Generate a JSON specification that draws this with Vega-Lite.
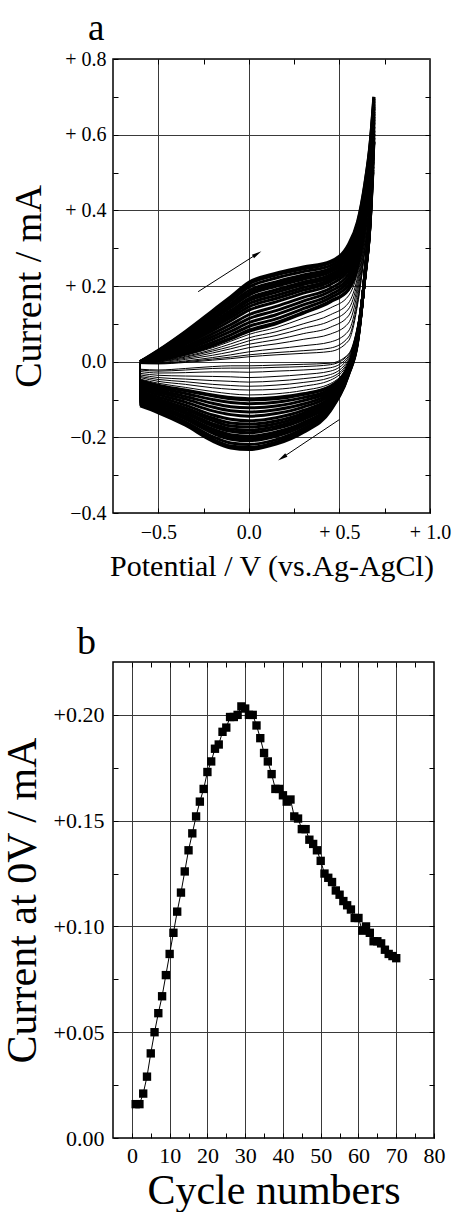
{
"$schema":"https://vega.github.io/schema/vega-lite/v6.json",
"background":"white",
"padding":{"left":0,"top":9,"right":0,"bottom":0},
"spacing":40,
"config":{
"view":{"stroke":"black","strokeWidth":1.5},
"axis":{"domain":false,"minExtent":0,"labelFont":"Liberation Serif","titleFont":"Liberation Serif","labelColor":"black","titleColor":"black","titleFontWeight":"normal","tickColor":"black","tickWidth":1,"gridColor":"#3a3a3a","gridWidth":1,"labelOverlap":false,"labelFlush":false,"labelBound":false},
"title":{"font":"Liberation Serif","fontWeight":"normal","color":"black"}
},
"datasets":{
"cv":[
{"c":1,"v":-0.6,"a":-0.005,"k":-0.02},{"c":1,"v":-0.5,"a":-0.006,"k":-0.022},{"c":1,"v":-0.35,"a":-0.002,"k":-0.018},{"c":1,"v":-0.2,"a":0.004,"k":-0.013},{"c":1,"v":-0.1,"a":0.008,"k":-0.011},{"c":1,"v":0,"a":0.013,"k":-0.011},{"c":1,"v":0.15,"a":0.018,"k":-0.009},{"c":1,"v":0.3,"a":0.022,"k":-0.007},{"c":1,"v":0.45,"a":0.027,"k":-0.004},{"c":1,"v":0.55,"a":0.055,"k":0.02},{"c":1,"v":0.6,"a":0.15,"k":0.095},{"c":1,"v":0.64,"a":0.29,"k":0.22},{"c":1,"v":0.67,"a":0.41,"k":0.33},{"c":1,"v":0.69,"a":0.5,"k":0.5},
{"c":3,"v":-0.6,"a":-0.005,"k":-0.022},{"c":3,"v":-0.5,"a":-0.005,"k":-0.025},{"c":3,"v":-0.35,"a":0,"k":-0.022},{"c":3,"v":-0.2,"a":0.007,"k":-0.018},{"c":3,"v":-0.1,"a":0.012,"k":-0.017},{"c":3,"v":0,"a":0.018,"k":-0.017},{"c":3,"v":0.15,"a":0.024,"k":-0.015},{"c":3,"v":0.3,"a":0.029,"k":-0.013},{"c":3,"v":0.45,"a":0.036,"k":-0.008},{"c":3,"v":0.55,"a":0.065,"k":0.018},{"c":3,"v":0.6,"a":0.157,"k":0.094},{"c":3,"v":0.64,"a":0.295,"k":0.22},{"c":3,"v":0.67,"a":0.415,"k":0.333},{"c":3,"v":0.69,"a":0.506,"k":0.506},
{"c":4,"v":-0.6,"a":-0.004,"k":-0.026},{"c":4,"v":-0.5,"a":-0.004,"k":-0.03},{"c":4,"v":-0.35,"a":0.002,"k":-0.029},{"c":4,"v":-0.2,"a":0.011,"k":-0.027},{"c":4,"v":-0.1,"a":0.018,"k":-0.027},{"c":4,"v":0,"a":0.026,"k":-0.028},{"c":4,"v":0.15,"a":0.034,"k":-0.025},{"c":4,"v":0.3,"a":0.042,"k":-0.022},{"c":4,"v":0.45,"a":0.052,"k":-0.016},{"c":4,"v":0.55,"a":0.081,"k":0.014},{"c":4,"v":0.6,"a":0.169,"k":0.091},{"c":4,"v":0.64,"a":0.303,"k":0.22},{"c":4,"v":0.67,"a":0.423,"k":0.338},{"c":4,"v":0.69,"a":0.515,"k":0.515},
{"c":5,"v":-0.6,"a":-0.004,"k":-0.031},{"c":5,"v":-0.5,"a":-0.003,"k":-0.036},{"c":5,"v":-0.35,"a":0.006,"k":-0.038},{"c":5,"v":-0.2,"a":0.017,"k":-0.039},{"c":5,"v":-0.1,"a":0.026,"k":-0.04},{"c":5,"v":0,"a":0.037,"k":-0.042},{"c":5,"v":0.15,"a":0.047,"k":-0.039},{"c":5,"v":0.3,"a":0.059,"k":-0.034},{"c":5,"v":0.45,"a":0.073,"k":-0.025},{"c":5,"v":0.55,"a":0.102,"k":0.01},{"c":5,"v":0.6,"a":0.185,"k":0.088},{"c":5,"v":0.64,"a":0.315,"k":0.22},{"c":5,"v":0.67,"a":0.435,"k":0.344},{"c":5,"v":0.69,"a":0.528,"k":0.528},
{"c":6,"v":-0.6,"a":-0.004,"k":-0.035},{"c":6,"v":-0.5,"a":-0.001,"k":-0.042},{"c":6,"v":-0.35,"a":0.009,"k":-0.046},{"c":6,"v":-0.2,"a":0.023,"k":-0.05},{"c":6,"v":-0.1,"a":0.034,"k":-0.052},{"c":6,"v":0,"a":0.046,"k":-0.054},{"c":6,"v":0.15,"a":0.058,"k":-0.051},{"c":6,"v":0.3,"a":0.074,"k":-0.045},{"c":6,"v":0.45,"a":0.091,"k":-0.034},{"c":6,"v":0.55,"a":0.121,"k":0.005},{"c":6,"v":0.6,"a":0.199,"k":0.085},{"c":6,"v":0.64,"a":0.324,"k":0.22},{"c":6,"v":0.67,"a":0.444,"k":0.35},{"c":6,"v":0.69,"a":0.539,"k":0.539},
{"c":7,"v":-0.6,"a":-0.003,"k":-0.039},{"c":7,"v":-0.5,"a":0,"k":-0.047},{"c":7,"v":-0.35,"a":0.012,"k":-0.053},{"c":7,"v":-0.2,"a":0.028,"k":-0.06},{"c":7,"v":-0.1,"a":0.04,"k":-0.063},{"c":7,"v":0,"a":0.055,"k":-0.065},{"c":7,"v":0.15,"a":0.069,"k":-0.062},{"c":7,"v":0.3,"a":0.088,"k":-0.055},{"c":7,"v":0.45,"a":0.108,"k":-0.042},{"c":7,"v":0.55,"a":0.139,"k":0.001},{"c":7,"v":0.6,"a":0.212,"k":0.083},{"c":7,"v":0.64,"a":0.333,"k":0.22},{"c":7,"v":0.67,"a":0.453,"k":0.355},{"c":7,"v":0.69,"a":0.55,"k":0.55},
{"c":8,"v":-0.6,"a":-0.003,"k":-0.042},{"c":8,"v":-0.5,"a":0.001,"k":-0.052},{"c":8,"v":-0.35,"a":0.014,"k":-0.06},{"c":8,"v":-0.2,"a":0.032,"k":-0.069},{"c":8,"v":-0.1,"a":0.047,"k":-0.073},{"c":8,"v":0,"a":0.063,"k":-0.075},{"c":8,"v":0.15,"a":0.079,"k":-0.073},{"c":8,"v":0.3,"a":0.1,"k":-0.065},{"c":8,"v":0.45,"a":0.124,"k":-0.049},{"c":8,"v":0.55,"a":0.155,"k":-0.002},{"c":8,"v":0.6,"a":0.224,"k":0.08},{"c":8,"v":0.64,"a":0.342,"k":0.22},{"c":8,"v":0.67,"a":0.462,"k":0.36},{"c":8,"v":0.69,"a":0.559,"k":0.559},
{"c":9,"v":-0.6,"a":-0.002,"k":-0.046},{"c":9,"v":-0.5,"a":0.003,"k":-0.057},{"c":9,"v":-0.35,"a":0.017,"k":-0.068},{"c":9,"v":-0.2,"a":0.037,"k":-0.079},{"c":9,"v":-0.1,"a":0.054,"k":-0.085},{"c":9,"v":0,"a":0.072,"k":-0.088},{"c":9,"v":0.15,"a":0.09,"k":-0.085},{"c":9,"v":0.3,"a":0.115,"k":-0.076},{"c":9,"v":0.45,"a":0.142,"k":-0.058},{"c":9,"v":0.55,"a":0.174,"k":-0.006},{"c":9,"v":0.6,"a":0.238,"k":0.077},{"c":9,"v":0.64,"a":0.352,"k":0.22},{"c":9,"v":0.67,"a":0.472,"k":0.365},{"c":9,"v":0.69,"a":0.57,"k":0.57},
{"c":10,"v":-0.6,"a":-0.002,"k":-0.051},{"c":10,"v":-0.5,"a":0.005,"k":-0.064},{"c":10,"v":-0.35,"a":0.021,"k":-0.077},{"c":10,"v":-0.2,"a":0.044,"k":-0.09},{"c":10,"v":-0.1,"a":0.062,"k":-0.098},{"c":10,"v":0,"a":0.083,"k":-0.101},{"c":10,"v":0.15,"a":0.103,"k":-0.098},{"c":10,"v":0.3,"a":0.13,"k":-0.087},{"c":10,"v":0.45,"a":0.16,"k":-0.066},{"c":10,"v":0.55,"a":0.192,"k":-0.011},{"c":10,"v":0.6,"a":0.252,"k":0.075},{"c":10,"v":0.64,"a":0.362,"k":0.22},{"c":10,"v":0.67,"a":0.482,"k":0.371},{"c":10,"v":0.69,"a":0.582,"k":0.582},
{"c":11,"v":-0.6,"a":-0.002,"k":-0.057},{"c":11,"v":-0.5,"a":0.007,"k":-0.069},{"c":11,"v":-0.35,"a":0.026,"k":-0.084},{"c":11,"v":-0.2,"a":0.051,"k":-0.1},{"c":11,"v":-0.1,"a":0.071,"k":-0.108},{"c":11,"v":0,"a":0.093,"k":-0.111},{"c":11,"v":0.15,"a":0.113,"k":-0.107},{"c":11,"v":0.3,"a":0.14,"k":-0.095},{"c":11,"v":0.45,"a":0.169,"k":-0.072},{"c":11,"v":0.55,"a":0.202,"k":-0.013},{"c":11,"v":0.6,"a":0.262,"k":0.073},{"c":11,"v":0.64,"a":0.371,"k":0.221},{"c":11,"v":0.67,"a":0.49,"k":0.375},{"c":11,"v":0.69,"a":0.592,"k":0.592},
{"c":12,"v":-0.6,"a":-0.002,"k":-0.062},{"c":12,"v":-0.5,"a":0.009,"k":-0.075},{"c":12,"v":-0.35,"a":0.031,"k":-0.092},{"c":12,"v":-0.2,"a":0.059,"k":-0.11},{"c":12,"v":-0.1,"a":0.08,"k":-0.119},{"c":12,"v":0,"a":0.103,"k":-0.122},{"c":12,"v":0.15,"a":0.124,"k":-0.117},{"c":12,"v":0.3,"a":0.15,"k":-0.103},{"c":12,"v":0.45,"a":0.177,"k":-0.077},{"c":12,"v":0.55,"a":0.212,"k":-0.015},{"c":12,"v":0.6,"a":0.272,"k":0.071},{"c":12,"v":0.64,"a":0.38,"k":0.222},{"c":12,"v":0.67,"a":0.498,"k":0.379},{"c":12,"v":0.69,"a":0.602,"k":0.602},
{"c":13,"v":-0.6,"a":-0.002,"k":-0.067},{"c":13,"v":-0.5,"a":0.011,"k":-0.081},{"c":13,"v":-0.35,"a":0.036,"k":-0.099},{"c":13,"v":-0.2,"a":0.066,"k":-0.12},{"c":13,"v":-0.1,"a":0.089,"k":-0.13},{"c":13,"v":0,"a":0.114,"k":-0.133},{"c":13,"v":0.15,"a":0.135,"k":-0.127},{"c":13,"v":0.3,"a":0.16,"k":-0.112},{"c":13,"v":0.45,"a":0.186,"k":-0.082},{"c":13,"v":0.55,"a":0.221,"k":-0.017},{"c":13,"v":0.6,"a":0.281,"k":0.069},{"c":13,"v":0.64,"a":0.389,"k":0.223},{"c":13,"v":0.67,"a":0.506,"k":0.383},{"c":13,"v":0.69,"a":0.611,"k":0.611},
{"c":14,"v":-0.6,"a":-0.001,"k":-0.073},{"c":14,"v":-0.5,"a":0.013,"k":-0.087},{"c":14,"v":-0.35,"a":0.04,"k":-0.107},{"c":14,"v":-0.2,"a":0.074,"k":-0.13},{"c":14,"v":-0.1,"a":0.098,"k":-0.14},{"c":14,"v":0,"a":0.124,"k":-0.144},{"c":14,"v":0.15,"a":0.146,"k":-0.137},{"c":14,"v":0.3,"a":0.17,"k":-0.12},{"c":14,"v":0.45,"a":0.194,"k":-0.087},{"c":14,"v":0.55,"a":0.231,"k":-0.019},{"c":14,"v":0.6,"a":0.291,"k":0.067},{"c":14,"v":0.64,"a":0.397,"k":0.223},{"c":14,"v":0.67,"a":0.514,"k":0.387},{"c":14,"v":0.69,"a":0.621,"k":0.621},
{"c":15,"v":-0.6,"a":-0.001,"k":-0.079},{"c":15,"v":-0.5,"a":0.015,"k":-0.093},{"c":15,"v":-0.35,"a":0.046,"k":-0.115},{"c":15,"v":-0.2,"a":0.082,"k":-0.141},{"c":15,"v":-0.1,"a":0.108,"k":-0.152},{"c":15,"v":0,"a":0.136,"k":-0.156},{"c":15,"v":0.15,"a":0.158,"k":-0.148},{"c":15,"v":0.3,"a":0.181,"k":-0.129},{"c":15,"v":0.45,"a":0.204,"k":-0.093},{"c":15,"v":0.55,"a":0.242,"k":-0.021},{"c":15,"v":0.6,"a":0.302,"k":0.064},{"c":15,"v":0.64,"a":0.407,"k":0.224},{"c":15,"v":0.67,"a":0.523,"k":0.392},{"c":15,"v":0.69,"a":0.632,"k":0.632},
{"c":16,"v":-0.6,"a":-0.001,"k":-0.084},{"c":16,"v":-0.5,"a":0.017,"k":-0.099},{"c":16,"v":-0.35,"a":0.05,"k":-0.122},{"c":16,"v":-0.2,"a":0.089,"k":-0.149},{"c":16,"v":-0.1,"a":0.116,"k":-0.162},{"c":16,"v":0,"a":0.145,"k":-0.165},{"c":16,"v":0.15,"a":0.167,"k":-0.157},{"c":16,"v":0.3,"a":0.189,"k":-0.136},{"c":16,"v":0.45,"a":0.212,"k":-0.098},{"c":16,"v":0.55,"a":0.25,"k":-0.023},{"c":16,"v":0.6,"a":0.31,"k":0.063},{"c":16,"v":0.64,"a":0.415,"k":0.225},{"c":16,"v":0.67,"a":0.53,"k":0.395},{"c":16,"v":0.69,"a":0.64,"k":0.64},
{"c":17,"v":-0.6,"a":-0.001,"k":-0.088},{"c":17,"v":-0.5,"a":0.019,"k":-0.103},{"c":17,"v":-0.35,"a":0.054,"k":-0.127},{"c":17,"v":-0.2,"a":0.094,"k":-0.156},{"c":17,"v":-0.1,"a":0.123,"k":-0.17},{"c":17,"v":0,"a":0.153,"k":-0.173},{"c":17,"v":0.15,"a":0.175,"k":-0.164},{"c":17,"v":0.3,"a":0.196,"k":-0.142},{"c":17,"v":0.45,"a":0.218,"k":-0.101},{"c":17,"v":0.55,"a":0.257,"k":-0.024},{"c":17,"v":0.6,"a":0.317,"k":0.061},{"c":17,"v":0.64,"a":0.422,"k":0.226},{"c":17,"v":0.67,"a":0.536,"k":0.398},{"c":17,"v":0.69,"a":0.647,"k":0.647},
{"c":18,"v":-0.6,"a":-0.001,"k":-0.092},{"c":18,"v":-0.5,"a":0.02,"k":-0.107},{"c":18,"v":-0.35,"a":0.057,"k":-0.133},{"c":18,"v":-0.2,"a":0.1,"k":-0.164},{"c":18,"v":-0.1,"a":0.129,"k":-0.178},{"c":18,"v":0,"a":0.161,"k":-0.181},{"c":18,"v":0.15,"a":0.183,"k":-0.171},{"c":18,"v":0.3,"a":0.204,"k":-0.148},{"c":18,"v":0.45,"a":0.224,"k":-0.105},{"c":18,"v":0.55,"a":0.264,"k":-0.026},{"c":18,"v":0.6,"a":0.324,"k":0.06},{"c":18,"v":0.64,"a":0.428,"k":0.226},{"c":18,"v":0.67,"a":0.542,"k":0.401},{"c":18,"v":0.69,"a":0.654,"k":0.654},
{"c":19,"v":-0.6,"a":-0.001,"k":-0.095},{"c":19,"v":-0.5,"a":0.021,"k":-0.111},{"c":19,"v":-0.35,"a":0.06,"k":-0.137},{"c":19,"v":-0.2,"a":0.104,"k":-0.17},{"c":19,"v":-0.1,"a":0.135,"k":-0.184},{"c":19,"v":0,"a":0.167,"k":-0.188},{"c":19,"v":0.15,"a":0.19,"k":-0.177},{"c":19,"v":0.3,"a":0.21,"k":-0.153},{"c":19,"v":0.45,"a":0.23,"k":-0.109},{"c":19,"v":0.55,"a":0.27,"k":-0.027},{"c":19,"v":0.6,"a":0.33,"k":0.058},{"c":19,"v":0.64,"a":0.434,"k":0.227},{"c":19,"v":0.67,"a":0.547,"k":0.404},{"c":19,"v":0.69,"a":0.66,"k":0.66},
{"c":20,"v":-0.6,"a":-0.001,"k":-0.1},{"c":20,"v":-0.5,"a":0.023,"k":-0.116},{"c":20,"v":-0.35,"a":0.064,"k":-0.144},{"c":20,"v":-0.2,"a":0.111,"k":-0.178},{"c":20,"v":-0.1,"a":0.143,"k":-0.193},{"c":20,"v":0,"a":0.176,"k":-0.197},{"c":20,"v":0.15,"a":0.199,"k":-0.186},{"c":20,"v":0.3,"a":0.218,"k":-0.161},{"c":20,"v":0.45,"a":0.237,"k":-0.113},{"c":20,"v":0.55,"a":0.279,"k":-0.029},{"c":20,"v":0.6,"a":0.339,"k":0.057},{"c":20,"v":0.64,"a":0.441,"k":0.227},{"c":20,"v":0.67,"a":0.554,"k":0.407},{"c":20,"v":0.69,"a":0.669,"k":0.669},
{"c":21,"v":-0.6,"a":0,"k":-0.102},{"c":21,"v":-0.5,"a":0.024,"k":-0.119},{"c":21,"v":-0.35,"a":0.067,"k":-0.148},{"c":21,"v":-0.2,"a":0.115,"k":-0.183},{"c":21,"v":-0.1,"a":0.147,"k":-0.199},{"c":21,"v":0,"a":0.181,"k":-0.203},{"c":21,"v":0.15,"a":0.205,"k":-0.191},{"c":21,"v":0.3,"a":0.223,"k":-0.165},{"c":21,"v":0.45,"a":0.242,"k":-0.116},{"c":21,"v":0.55,"a":0.284,"k":-0.03},{"c":21,"v":0.6,"a":0.344,"k":0.056},{"c":21,"v":0.64,"a":0.446,"k":0.228},{"c":21,"v":0.67,"a":0.558,"k":0.409},{"c":21,"v":0.69,"a":0.674,"k":0.674},
{"c":22,"v":-0.6,"a":0,"k":-0.106},{"c":22,"v":-0.5,"a":0.026,"k":-0.123},{"c":22,"v":-0.35,"a":0.07,"k":-0.152},{"c":22,"v":-0.2,"a":0.119,"k":-0.189},{"c":22,"v":-0.1,"a":0.153,"k":-0.205},{"c":22,"v":0,"a":0.188,"k":-0.209},{"c":22,"v":0.15,"a":0.211,"k":-0.197},{"c":22,"v":0.3,"a":0.229,"k":-0.17},{"c":22,"v":0.45,"a":0.247,"k":-0.119},{"c":22,"v":0.55,"a":0.29,"k":-0.031},{"c":22,"v":0.6,"a":0.35,"k":0.054},{"c":22,"v":0.64,"a":0.451,"k":0.228},{"c":22,"v":0.67,"a":0.563,"k":0.412},{"c":22,"v":0.69,"a":0.68,"k":0.68},
{"c":24,"v":-0.6,"a":0,"k":-0.11},{"c":24,"v":-0.5,"a":0.027,"k":-0.128},{"c":24,"v":-0.35,"a":0.074,"k":-0.159},{"c":24,"v":-0.2,"a":0.126,"k":-0.198},{"c":24,"v":-0.1,"a":0.161,"k":-0.215},{"c":24,"v":0,"a":0.197,"k":-0.219},{"c":24,"v":0.15,"a":0.221,"k":-0.206},{"c":24,"v":0.3,"a":0.238,"k":-0.177},{"c":24,"v":0.45,"a":0.254,"k":-0.124},{"c":24,"v":0.55,"a":0.298,"k":-0.033},{"c":24,"v":0.6,"a":0.358,"k":0.053},{"c":24,"v":0.64,"a":0.459,"k":0.229},{"c":24,"v":0.67,"a":0.57,"k":0.415},{"c":24,"v":0.69,"a":0.688,"k":0.688},
{"c":26,"v":-0.6,"a":0,"k":-0.114},{"c":26,"v":-0.5,"a":0.029,"k":-0.132},{"c":26,"v":-0.35,"a":0.078,"k":-0.164},{"c":26,"v":-0.2,"a":0.131,"k":-0.205},{"c":26,"v":-0.1,"a":0.168,"k":-0.223},{"c":26,"v":0,"a":0.205,"k":-0.227},{"c":26,"v":0.15,"a":0.229,"k":-0.213},{"c":26,"v":0.3,"a":0.245,"k":-0.183},{"c":26,"v":0.45,"a":0.261,"k":-0.127},{"c":26,"v":0.55,"a":0.305,"k":-0.034},{"c":26,"v":0.6,"a":0.365,"k":0.051},{"c":26,"v":0.64,"a":0.466,"k":0.23},{"c":26,"v":0.67,"a":0.576,"k":0.418},{"c":26,"v":0.69,"a":0.695,"k":0.695},
{"c":29,"v":-0.6,"a":0,"k":-0.117},{"c":29,"v":-0.5,"a":0.03,"k":-0.135},{"c":29,"v":-0.35,"a":0.08,"k":-0.168},{"c":29,"v":-0.2,"a":0.135,"k":-0.21},{"c":29,"v":-0.1,"a":0.172,"k":-0.228},{"c":29,"v":0,"a":0.21,"k":-0.232},{"c":29,"v":0.15,"a":0.234,"k":-0.218},{"c":29,"v":0.3,"a":0.25,"k":-0.187},{"c":29,"v":0.45,"a":0.265,"k":-0.13},{"c":29,"v":0.55,"a":0.31,"k":-0.035},{"c":29,"v":0.6,"a":0.37,"k":0.05},{"c":29,"v":0.64,"a":0.47,"k":0.23},{"c":29,"v":0.67,"a":0.58,"k":0.42},{"c":29,"v":0.69,"a":0.7,"k":0.7},
{"c":70,"v":-0.6,"a":-0.002,"k":-0.05},{"c":70,"v":-0.5,"a":0.004,"k":-0.062},{"c":70,"v":-0.35,"a":0.02,"k":-0.075},{"c":70,"v":-0.2,"a":0.042,"k":-0.088},{"c":70,"v":-0.1,"a":0.06,"k":-0.095},{"c":70,"v":0,"a":0.08,"k":-0.098},{"c":70,"v":0.15,"a":0.1,"k":-0.095},{"c":70,"v":0.3,"a":0.128,"k":-0.085},{"c":70,"v":0.45,"a":0.158,"k":-0.065},{"c":70,"v":0.55,"a":0.19,"k":-0.01},{"c":70,"v":0.6,"a":0.25,"k":0.075},{"c":70,"v":0.64,"a":0.36,"k":0.22},{"c":70,"v":0.67,"a":0.48,"k":0.37},{"c":70,"v":0.69,"a":0.58,"k":0.58}
],
"arr":[{"v":-0.28,"i":0.185,"v2":0.046,"i2":0.285},{"v":0.5,"i":-0.153,"v2":0.184,"i2":-0.254}],
"heads":[{"h":1,"v":0.046,"i":0.285},{"h":2,"v":0.184,"i":-0.254}],
"pb":[
{"n":1,"i":0.016},{"n":2,"i":0.016},{"n":3,"i":0.021},{"n":4,"i":0.029},{"n":5,"i":0.04},{"n":6,"i":0.05},{"n":7,"i":0.059},{"n":8,"i":0.067},{"n":9,"i":0.077},{"n":10,"i":0.087},
{"n":11,"i":0.097},{"n":12,"i":0.107},{"n":13,"i":0.116},{"n":14,"i":0.126},{"n":15,"i":0.136},{"n":16,"i":0.144},{"n":17,"i":0.152},{"n":18,"i":0.159},{"n":19,"i":0.165},{"n":20,"i":0.173},
{"n":21,"i":0.178},{"n":22,"i":0.184},{"n":23,"i":0.186},{"n":24,"i":0.192},{"n":25,"i":0.194},{"n":26,"i":0.199},{"n":27,"i":0.199},{"n":28,"i":0.2},{"n":29,"i":0.204},{"n":30,"i":0.203},
{"n":31,"i":0.2},{"n":32,"i":0.2},{"n":33,"i":0.195},{"n":34,"i":0.189},{"n":35,"i":0.182},{"n":36,"i":0.178},{"n":37,"i":0.172},{"n":38,"i":0.165},{"n":39,"i":0.165},{"n":40,"i":0.162},
{"n":41,"i":0.159},{"n":42,"i":0.16},{"n":43,"i":0.152},{"n":44,"i":0.151},{"n":45,"i":0.146},{"n":46,"i":0.146},{"n":47,"i":0.141},{"n":48,"i":0.139},{"n":49,"i":0.136},{"n":50,"i":0.131},
{"n":51,"i":0.125},{"n":52,"i":0.123},{"n":53,"i":0.121},{"n":54,"i":0.117},{"n":55,"i":0.115},{"n":56,"i":0.112},{"n":57,"i":0.11},{"n":58,"i":0.108},{"n":59,"i":0.104},{"n":60,"i":0.104},
{"n":61,"i":0.098},{"n":62,"i":0.1},{"n":63,"i":0.097},{"n":64,"i":0.093},{"n":65,"i":0.093},{"n":66,"i":0.092},{"n":67,"i":0.089},{"n":68,"i":0.087},{"n":69,"i":0.086},{"n":70,"i":0.085}
]
},
"vconcat":[
{
"width":317,"height":454,
"title":{"text":"a","anchor":"start","frame":"group","fontSize":37,"dx":-25,"offset":-28,"baseline":"alphabetic"},
"resolve":{"axis":{"x":"independent","y":"independent"}},
"layer":[
{"data":{"name":"cv"},"mark":{"type":"line","interpolate":"monotone","color":"black"},
"encoding":{
"x":{"field":"v","type":"quantitative","scale":{"domain":[-0.75,1],"nice":false,"zero":false},
"axis":{"orient":"bottom","values":[-0.5,-0.25,0,0.25,0.5,0.75,1],"tickSize":-5,"grid":true,
"gridOpacity":{"condition":{"test":"abs(datum.value*2-round(datum.value*2))>0.01","value":0},"value":1},
"labelExpr":"abs(datum.value*2-round(datum.value*2))>0.01 ? '' : (datum.value>0.001 ? '+ '+format(datum.value,'.1f') : format(datum.value,'.1f'))",
"labelFontSize":20,"labelPadding":14,"title":"Potential / V (vs.Ag-AgCl)","titleFontSize":30,"titlePadding":9}},
"y":{"field":"a","type":"quantitative","scale":{"domain":[-0.4,0.8],"nice":false,"zero":false},
"axis":{"orient":"left","values":[-0.4,-0.3,-0.2,-0.1,0,0.1,0.2,0.3,0.4,0.5,0.6,0.7,0.8],"tickSize":-5,"grid":true,
"gridOpacity":{"condition":{"test":"abs(datum.value*5-round(datum.value*5))>0.01","value":0},"value":1},
"labelExpr":"abs(datum.value*5-round(datum.value*5))>0.01 ? '' : (datum.value>0.001 ? '+ '+format(datum.value,'.1f') : format(datum.value,'.1f'))",
"labelFontSize":20,"labelPadding":12,"title":"Current / mA","titleFontSize":38,"titlePadding":16}},
"detail":{"field":"c","type":"nominal"},
"strokeWidth":{"condition":{"test":"datum.c >= 10","value":3},"value":1}}},
{"data":{"name":"cv"},"mark":{"type":"line","interpolate":"monotone","color":"black"},
"encoding":{
"x":{"field":"v","type":"quantitative","scale":{"domain":[-0.75,1],"nice":false,"zero":false},
"axis":{"orient":"top","values":[-0.5,-0.25,0,0.25,0.5,0.75],"tickSize":-5,"labels":false,"grid":false,"title":null,"labelPadding":0,"titlePadding":0,"maxExtent":0}},
"y":{"field":"k","type":"quantitative","scale":{"domain":[-0.4,0.8],"nice":false,"zero":false},
"axis":{"orient":"right","values":[-0.3,-0.2,-0.1,0,0.1,0.2,0.3,0.4,0.5,0.6,0.7],"tickSize":-5,"labels":false,"grid":false,"title":null,"labelPadding":0,"titlePadding":0,"maxExtent":0}},
"detail":{"field":"c","type":"nominal"},
"strokeWidth":{"condition":{"test":"datum.c >= 10","value":3},"value":1}}},
{"data":{"name":"cv"},"transform":[{"filter":"datum.v == -0.6"}],"mark":{"type":"rule","color":"black","strokeWidth":1.5},
"encoding":{
"x":{"field":"v","type":"quantitative","scale":{"domain":[-0.75,1],"nice":false,"zero":false},"axis":null},
"y":{"field":"a","type":"quantitative","scale":{"domain":[-0.4,0.8],"nice":false,"zero":false},"axis":null},
"y2":{"field":"k"}}},
{"data":{"name":"arr"},"mark":{"type":"rule","color":"black","strokeWidth":1},
"encoding":{
"x":{"field":"v","type":"quantitative","scale":{"domain":[-0.75,1],"nice":false,"zero":false},"axis":null},
"y":{"field":"i","type":"quantitative","scale":{"domain":[-0.4,0.8],"nice":false,"zero":false},"axis":null},
"x2":{"field":"v2"},"y2":{"field":"i2"}}},
{"data":{"name":"heads"},"transform":[{"filter":"datum.h == 1"}],"mark":{"type":"point","shape":"M0,-1L0.4,1L-0.4,1Z","filled":true,"color":"black","opacity":1,"size":100,"angle":57.5},
"encoding":{
"x":{"field":"v","type":"quantitative","scale":{"domain":[-0.75,1],"nice":false,"zero":false},"axis":null},
"y":{"field":"i","type":"quantitative","scale":{"domain":[-0.4,0.8],"nice":false,"zero":false},"axis":null}}},
{"data":{"name":"heads"},"transform":[{"filter":"datum.h == 2"}],"mark":{"type":"point","shape":"M0,-1L0.4,1L-0.4,1Z","filled":true,"color":"black","opacity":1,"size":100,"angle":236},
"encoding":{
"x":{"field":"v","type":"quantitative","scale":{"domain":[-0.75,1],"nice":false,"zero":false},"axis":null},
"y":{"field":"i","type":"quantitative","scale":{"domain":[-0.4,0.8],"nice":false,"zero":false},"axis":null}}}
]
},
{
"width":321,"height":476,
"title":{"text":"b","anchor":"start","frame":"group","fontSize":38,"dx":-36,"offset":-30,"baseline":"alphabetic"},
"data":{"name":"pb"},
"resolve":{"axis":{"x":"independent","y":"independent"}},
"layer":[
{"mark":{"type":"line","color":"black","strokeWidth":1},
"encoding":{
"x":{"field":"n","type":"quantitative","scale":{"domain":[-5,80],"nice":false,"zero":false},
"axis":{"orient":"bottom","values":[0,5,10,15,20,25,30,35,40,45,50,55,60,65,70,75,80],"tickSize":-5,"grid":true,
"gridOpacity":{"condition":{"test":"datum.value % 10 != 0","value":0},"value":1},
"labelExpr":"datum.value % 10 == 0 ? format(datum.value,'d') : ''",
"labelFontSize":22,"labelPadding":12,"title":"Cycle numbers","titleFontSize":42,"titlePadding":4}},
"y":{"field":"i","type":"quantitative","scale":{"domain":[0,0.225],"nice":false,"zero":false},
"axis":{"orient":"left","values":[0,0.025,0.05,0.075,0.1,0.125,0.15,0.175,0.2],"tickSize":-5,"grid":true,
"gridOpacity":{"condition":{"test":"abs(datum.value*20-round(datum.value*20))>0.01","value":0},"value":1},
"labelExpr":"abs(datum.value*20-round(datum.value*20))>0.01 ? '' : (datum.value>0.001 ? '+'+format(datum.value,'.2f') : format(datum.value,'.2f'))",
"labelFontSize":22,"labelPadding":14,"title":"Current at 0V / mA","titleFontSize":42,"titlePadding":9}}}},
{"mark":{"type":"point","shape":"square","filled":true,"color":"black","opacity":1,"size":70},
"encoding":{
"x":{"field":"n","type":"quantitative","scale":{"domain":[-5,80],"nice":false,"zero":false},
"axis":{"orient":"top","values":[0,5,10,15,20,25,30,35,40,45,50,55,60,65,70,75],"tickSize":-5,"labels":false,"grid":false,"title":null,"labelPadding":0,"titlePadding":0,"maxExtent":0}},
"y":{"field":"i","type":"quantitative","scale":{"domain":[0,0.225],"nice":false,"zero":false},
"axis":{"orient":"right","values":[0.025,0.05,0.075,0.1,0.125,0.15,0.175,0.2],"tickSize":-5,"labels":false,"grid":false,"title":null,"labelPadding":0,"titlePadding":0,"maxExtent":0}}}}
]
}
]
}
